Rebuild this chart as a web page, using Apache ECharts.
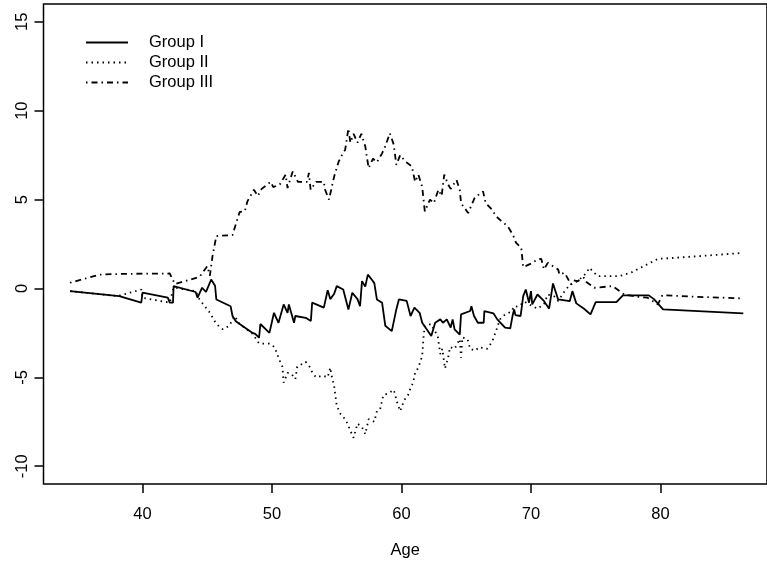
<!DOCTYPE html>
<html>
<head>
<meta charset="utf-8">
<script src="https://cdn.jsdelivr.net/npm/echarts@6/dist/echarts.min.js"></script>
<style>
  html, body { margin: 0; padding: 0; background: #fff; }
  #chart { width: 767px; height: 564px; }
</style>
</head>
<body>
<div id="chart"></div>
<script>
// values
const ages1 = [34.4, 38.2, 39.9, 40.0, 41.95, 42.1, 42.35, 42.4, 44.1, 44.25, 44.6, 44.9, 45.3, 45.6, 45.7, 46.8, 46.95, 47.2, 47.5, 48.5, 48.7, 49.0, 49.1, 49.8, 50.15, 50.5, 50.9, 51.2, 51.3, 51.7, 51.8, 52.6, 53.0, 53.1, 54.0, 54.3, 54.5, 54.8, 55.0, 55.5, 55.9, 56.2, 56.6, 56.8, 56.95, 57.2, 57.4, 57.7, 57.9, 58.1, 58.5, 58.75, 59.25, 59.6, 59.8, 60.4, 60.7, 61.0, 61.4, 61.6, 62.3, 62.6, 63.0, 63.2, 63.5, 63.8, 63.95, 64.1, 64.5, 64.6, 65.3, 65.4, 65.6, 65.9, 66.35, 66.4, 67.1, 67.4, 68.0, 68.4, 68.6, 68.7, 68.8, 69.2, 69.4, 69.6, 69.85, 70.0, 70.1, 70.5, 71.0, 71.4, 71.7, 72.1, 73.0, 73.2, 73.5, 74.1, 74.6, 75.0, 76.6, 77.1, 79.1, 79.5, 80.2, 86.4]
const group1 = [-0.15, -0.43, -0.8, -0.24, -0.52, -0.8, -0.8, 0.13, -0.2, -0.52, 0.04, -0.2, 0.5, 0.15, -0.62, -1.0, -1.55, -1.84, -2.0, -2.5, -2.55, -2.77, -2.0, -2.5, -1.37, -1.93, -0.9, -1.37, -0.9, -1.93, -1.55, -1.65, -1.83, -0.8, -1.08, -0.1, -0.6, -0.3, 0.13, -0.06, -1.18, -0.24, -0.6, -1.0, 0.41, 0.1, 0.78, 0.5, 0.3, -0.62, -0.8, -2.1, -2.4, -1.18, -0.62, -0.7, -1.55, -1.08, -1.37, -1.93, -2.67, -1.93, -1.74, -1.93, -1.74, -2.2, -1.74, -2.3, -2.6, -1.46, -1.27, -1.0, -1.55, -1.93, -1.93, -1.27, -1.4, -1.74, -2.2, -2.25, -1.46, -1.18, -1.5, -1.55, -0.43, -0.06, -0.8, -0.15, -0.9, -0.34, -0.7, -1.14, 0.28, -0.62, -0.71, -0.15, -0.84, -1.14, -1.46, -0.77, -0.77, -0.39, -0.39, -0.6, -1.18, -1.4]

const ages2 = [34.4, 38.1, 39.9, 40.0, 42.1, 42.4, 44.1, 44.4, 45.2, 45.7, 46.2, 46.7, 47.1, 47.5, 48.5, 49.0, 49.8, 50.2, 50.5, 50.8, 50.9, 51.2, 51.5, 51.8, 51.95, 52.6, 52.9, 53.1, 53.4, 53.9, 54.3, 54.5, 54.6, 54.8, 55.0, 55.3, 55.7, 56.05, 56.3, 56.6, 56.95, 57.2, 57.46, 57.9, 58.1, 58.35, 58.6, 59.0, 59.4, 59.7, 59.9, 60.2, 60.5, 60.7, 60.9, 61.05, 61.3, 61.6, 61.7, 61.8, 62.3, 62.55, 62.8, 63.0, 63.15, 63.36, 63.6, 63.75, 64.1, 64.5, 64.6, 64.7, 65.1, 65.3, 65.7, 66.0, 66.6, 67.0, 67.3, 67.6, 68.0, 68.5, 68.7, 69.0, 69.5, 70.0, 70.5, 71.0, 71.3, 71.8, 72.1, 72.6, 73.0, 73.6, 74.3, 74.5, 74.8, 75.15, 76.8, 77.7, 78.7, 79.8, 82.85, 86.4]
const group2 = [-0.15, -0.43, -0.06, -0.52, -0.8, 0.05, -0.15, -0.62, -1.37, -2.0, -2.3, -2.1, -1.55, -2.0, -2.55, -3.1, -3.1, -3.3, -3.9, -4.4, -5.3, -4.75, -4.8, -5.1, -4.4, -4.13, -4.4, -4.7, -5.0, -4.9, -5.0, -4.45, -4.9, -5.5, -6.6, -7.07, -7.4, -8.0, -8.4, -7.6, -7.8, -8.2, -7.35, -7.5, -6.9, -6.8, -6.0, -5.9, -5.7, -6.5, -6.9, -6.3, -6.0, -5.6, -5.3, -4.75, -4.45, -3.8, -2.77, -2.1, -2.0, -2.35, -2.7, -3.7, -3.4, -4.5, -3.9, -3.3, -3.4, -2.85, -3.9, -2.75, -2.85, -3.4, -3.5, -3.3, -3.4, -3.0, -2.4, -1.74, -1.46, -1.3, -1.0, -1.03, -0.75, -0.95, -1.14, -0.9, -0.34, -0.45, -0.7, -0.15, 0.2, 0.41, 0.88, 1.16, 0.95, 0.69, 0.69, 0.88, 1.25, 1.66, 1.81, 2.0]

const ages3 = [34.4, 36.7, 38.5, 42.1, 42.5, 44.4, 45.0, 45.2, 45.4, 45.7, 46.95, 47.2, 47.5, 47.9, 48.1, 48.6, 48.9, 49.2, 49.9, 50.1, 50.6, 51.05, 51.2, 51.6, 52.0, 52.7, 52.85, 52.98, 53.4, 54.0, 54.1, 54.4, 54.8, 55.15, 55.4, 55.65, 55.9, 56.05, 56.3, 56.6, 56.9, 57.2, 57.46, 57.8, 58.1, 58.5, 58.75, 59.1, 59.4, 59.6, 59.9, 60.3, 60.8, 61.05, 61.3, 61.6, 61.8, 62.2, 62.5, 62.85, 63.1, 63.3, 63.6, 63.8, 64.25, 64.5, 64.6, 65.15, 65.65, 66.3, 66.5, 67.0, 67.3, 67.7, 68.2, 68.6, 68.85, 69.25, 69.4, 70.0, 70.5, 70.8, 71.0, 71.3, 71.7, 72.1, 72.2, 72.6, 73.1, 73.3, 73.6, 74.1, 74.3, 74.9, 76.3, 77.2, 78.2, 79.0, 79.8, 80.15, 82.8, 86.4]
const group3 = [0.32, 0.78, 0.82, 0.84, 0.25, 0.65, 1.25, 0.72, 1.8, 2.95, 3.0, 3.6, 4.3, 4.35, 4.9, 5.55, 5.2, 5.6, 6.0, 5.7, 5.85, 6.4, 5.65, 6.58, 6.0, 6.0, 6.5, 5.55, 6.0, 6.0, 5.55, 5.0, 6.3, 7.14, 7.5, 7.8, 9.0, 8.2, 8.7, 8.2, 8.7, 8.0, 6.77, 7.3, 7.1, 7.6, 8.0, 8.73, 8.1, 6.95, 7.5, 7.14, 6.86, 6.0, 6.4, 5.7, 4.34, 5.0, 4.8, 5.55, 5.2, 6.4, 5.85, 5.6, 6.1, 5.55, 4.8, 4.24, 5.1, 5.46, 4.8, 4.43, 4.06, 3.8, 3.5, 3.03, 2.56, 2.28, 1.2, 1.4, 1.63, 1.66, 1.07, 1.44, 1.25, 1.07, 0.78, 0.88, 0.22, 0.45, 0.41, 0.6, 0.35, 0.04, 0.13, -0.34, -0.47, -0.52, -0.9, -0.38, -0.47, -0.56]

const groupNames = ['Group I', 'Group II', 'Group III']
const xTicks = [40, 50, 60, 70, 80]
const yTicks = [-10, -5, 0, 5, 10, 15]

const font = 'Liberation Sans, Arial, Helvetica, sans-serif'
const zip = (xs, ys) => xs.map((x, i) => [x, ys[i]])

const chart = echarts.init(document.getElementById('chart'), null, { renderer: 'canvas' })

const lineSeries = (name, xs, ys, type) => ({
  name, type: 'line', data: zip(xs, ys),
  symbol: 'none', showSymbol: false, animation: false, clip: true,
  lineStyle: { color: '#000', width: 1.8, type },
  itemStyle: { color: '#000' },
})

chart.setOption({
  animation: false,
  backgroundColor: '#fff',
  grid: { left: 43.5, right: -3, top: 4, bottom: 79, show: true, borderColor: '#000', borderWidth: 1.5, containLabel: false },
  legend: {
    orient: 'vertical', left: 85, top: 34, padding: 0, itemGap: 3,
    itemWidth: 42, itemHeight: 14,
    data: groupNames,
    itemStyle: { opacity: 0 },
    textStyle: { fontFamily: font, fontSize: 16.5, color: '#000', padding: [0, 0, 0, 16] },
  },
  xAxis: {
    type: 'value', min: 32.35, max: 88.23,
    name: 'Age', nameLocation: 'middle', nameGap: 58,
    nameTextStyle: { fontFamily: font, fontSize: 16.5, color: '#000' },
    axisLine: { show: false, onZero: false },
    axisTick: { show: true, inside: false, length: 9, customValues: xTicks, lineStyle: { color: '#000', width: 1.5 } },
    axisLabel: { customValues: xTicks, margin: 22, fontFamily: font, fontSize: 16.5, color: '#000' },
    splitLine: { show: false },
  },
  yAxis: {
    type: 'value', min: -11, max: 16,
    axisLine: { show: false, onZero: false },
    axisTick: { show: true, inside: false, length: 9, customValues: yTicks, lineStyle: { color: '#000', width: 1.5 } },
    axisLabel: { customValues: yTicks, rotate: 90, margin: 13, fontFamily: font, fontSize: 16.5, color: '#000' },
    splitLine: { show: false },
  },
  series: [
    lineSeries('Group I', ages1, group1, 'solid'),
    lineSeries('Group II', ages2, group2, [1.5, 4]),
    lineSeries('Group III', ages3, group3, [1.5, 4, 6, 4]),
  ],
})
</script>
</body>
</html>
